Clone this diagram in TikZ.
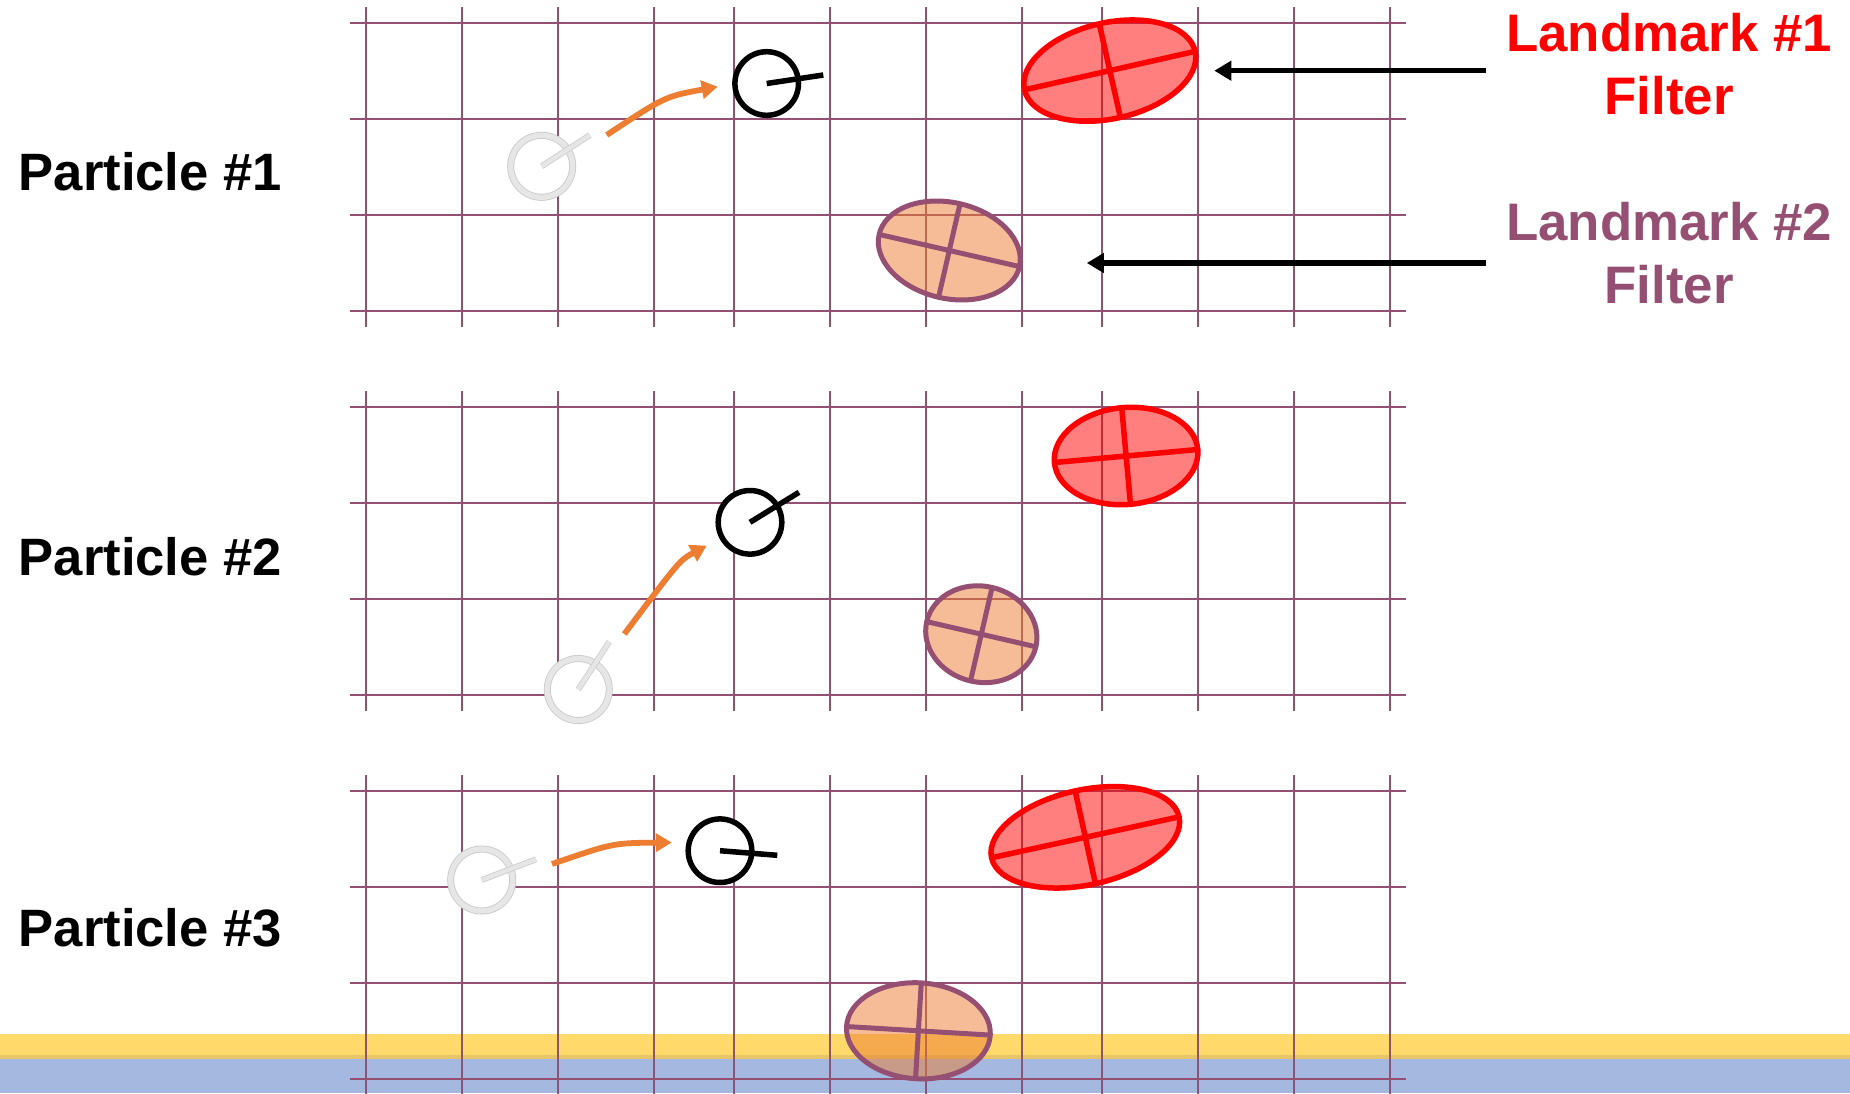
\documentclass[tikz,border=0pt]{standalone}
\usepackage{fontspec}
\setmainfont{Liberation Sans}
\usetikzlibrary{arrows.meta,shapes.geometric}
\definecolor{gridc}{HTML}{954F72}
\definecolor{lmred}{HTML}{FF0000}
\definecolor{lmorange}{HTML}{ED7D31}
\definecolor{ghost}{HTML}{E6E6E6}
\definecolor{ghostedge}{HTML}{C8C8C8}
\definecolor{motionc}{HTML}{ED7D31}
\definecolor{bandyellow}{HTML}{FFD96A}
\definecolor{bandedge}{HTML}{E6C56B}
\definecolor{bandblue}{HTML}{A4B8E0}
\begin{document}
\begin{tikzpicture}[x=1pt,y=-1pt,
  gridline/.style={draw=gridc,line width=2.4pt},
  lmone/.style={ellipse,draw=lmred,line width=5.5pt,fill=lmred,fill opacity=0.5,draw opacity=1,inner sep=0pt,outer sep=0pt},
  lmtwo/.style={ellipse,draw=gridc,line width=5pt,fill=lmorange,fill opacity=0.5,draw opacity=1,inner sep=0pt,outer sep=0pt},
  crossone/.style={draw=lmred,line width=5.5pt},
  crosstwo/.style={draw=gridc,line width=5pt},
  newpose/.style={circle,draw=black,line width=5.5pt,fill=white,minimum size=63.6pt,inner sep=0pt,outer sep=0pt},
  newhead/.style={draw=black,line width=5.5pt},
  oldpose/.style={circle,draw=ghostedge,line width=7pt,fill=white,minimum size=62pt,inner sep=0pt,outer sep=0pt},
  oldring/.style={draw=ghost,line width=5.4pt},
  oldheadedge/.style={draw=ghostedge,line width=5.8pt},
  oldhead/.style={draw=ghost,line width=4.4pt},
  motion/.style={draw=motionc,line width=5.8pt,-{Triangle[length=16pt,width=18pt]}},
  pointer/.style={draw=black,line width=5.5pt,-{Triangle[length=17pt,width=19pt]}},
  ptext/.style={font=\bfseries\fontsize{52.6}{62}\selectfont,inner sep=0pt,anchor=base west},
  lmlabel/.style={font=\bfseries\fontsize{52.8}{63.3}\selectfont,align=center,inner sep=0pt}
]
\useasboundingbox (0,0) rectangle (1850,1093);
\fill[white] (0,0) rectangle (1850,1093);
% bands
\fill[bandyellow] (0,1034) rectangle (1850,1056);
\fill[bandedge] (0,1055) rectangle (1850,1059.5);
\fill[bandblue] (0,1059) rectangle (1850,1093);
% grids
\foreach \yo in {7,391,775}{
  \foreach \xx in {366,462,558,654,734,830,926,1022,1102,1198,1294,1390}{
    \draw[gridline] (\xx,\yo) -- (\xx,\yo+320);
  }
  \foreach \dy in {16,112,208,304}{
    \draw[gridline] (350,\yo+\dy) -- (1406,\yo+\dy);
  }
}
% labels
\node[ptext] (pl1) at (18.5,190) {Particle \#1};
\node[ptext] (pl2) at (18.5,575.7) {Particle \#2};
\node[ptext] (pl3) at (18.5,946.7) {Particle \#3};
\node[lmlabel,text=lmred] (lab1) at (1669,64.4) {Landmark \#1\\Filter};
\node[lmlabel,text=gridc] (lab2) at (1669,253.1) {Landmark \#2\\Filter};
% ---------- particle 1
\node[lmone,minimum width=175pt,minimum height=96pt,rotate=12.7] (r1) at (1109.8,70.6) {};
\draw[crossone] (r1.west) -- (r1.east) (r1.north) -- (r1.south);
\node[lmtwo,minimum width=144pt,minimum height=96pt,rotate=-12.9] (o1) at (949.3,250.5) {};
\draw[crosstwo] (o1.west) -- (o1.east) (o1.north) -- (o1.south);
\node[oldpose] (g1) at (541.7,166.3) {};
\draw[oldring] (g1.center) circle[radius=31pt];
\coordinate (g1h) at (590,135);
\draw[oldheadedge] (g1.center) -- (g1h);
\draw[oldhead] (g1.center) -- (g1h);
\node[newpose] (n1) at (766.7,83.5) {};
\coordinate (n1h) at (823.3,75);
\draw[newhead] (n1.center) -- (n1h);
\coordinate (m1s) at (606.7,135);
\coordinate (m1e) at (717.7,86.7);
\draw[motion] (m1s) .. controls (665,96.5) .. (m1e);
% pointers
\coordinate (a1s) at (1486,70.7);
\coordinate (a1e) at (1214.3,70.7);
\coordinate (a2s) at (1486,263);
\coordinate (a2e) at (1086.8,263);
\draw[pointer] (a1s) -- (a1e);
\draw[pointer] (a2s) -- (a2e);
% ---------- particle 2
\node[lmone,minimum width=144pt,minimum height=97pt,rotate=5.2] (r2) at (1126.1,456) {};
\draw[crossone] (r2.west) -- (r2.east) (r2.north) -- (r2.south);
\node[lmtwo,minimum width=112pt,minimum height=96pt,rotate=-13] (o2) at (981.3,634.2) {};
\draw[crosstwo] (o2.west) -- (o2.east) (o2.north) -- (o2.south);
\node[oldpose] (g2) at (578.3,689.5) {};
\draw[oldring] (g2.center) circle[radius=31pt];
\coordinate (g2h) at (609.3,641.7);
\draw[oldheadedge] (g2.center) -- (g2h);
\draw[oldhead] (g2.center) -- (g2h);
\node[newpose] (n2) at (750,522.3) {};
\coordinate (n2h) at (799,492.3);
\draw[newhead] (n2.center) -- (n2h);
\coordinate (m2s) at (624.3,634);
\coordinate (m2e) at (706.7,545.7);
\draw[motion] (m2s) .. controls (680,560) .. (m2e);
% ---------- particle 3
\node[lmone,minimum width=192pt,minimum height=95pt,rotate=12.3] (r3) at (1085.3,837.3) {};
\draw[crossone] (r3.west) -- (r3.east) (r3.north) -- (r3.south);
\node[lmtwo,minimum width=144pt,minimum height=96pt,rotate=-3.4] (o3) at (918.4,1030.8) {};
\draw[crosstwo] (o3.west) -- (o3.east) (o3.north) -- (o3.south);
\node[oldpose] (g3) at (481.7,880) {};
\draw[oldring] (g3.center) circle[radius=31pt];
\coordinate (g3h) at (536,859.3);
\draw[oldheadedge] (g3.center) -- (g3h);
\draw[oldhead] (g3.center) -- (g3h);
\node[newpose] (n3) at (720,850.7) {};
\coordinate (n3h) at (777.3,855.3);
\draw[newhead] (n3.center) -- (n3h);
\coordinate (m3s) at (552,864);
\coordinate (m3e) at (671.7,842.5);
\draw[motion] (m3s) .. controls (613,843) .. (m3e);
\end{tikzpicture}
\end{document}
